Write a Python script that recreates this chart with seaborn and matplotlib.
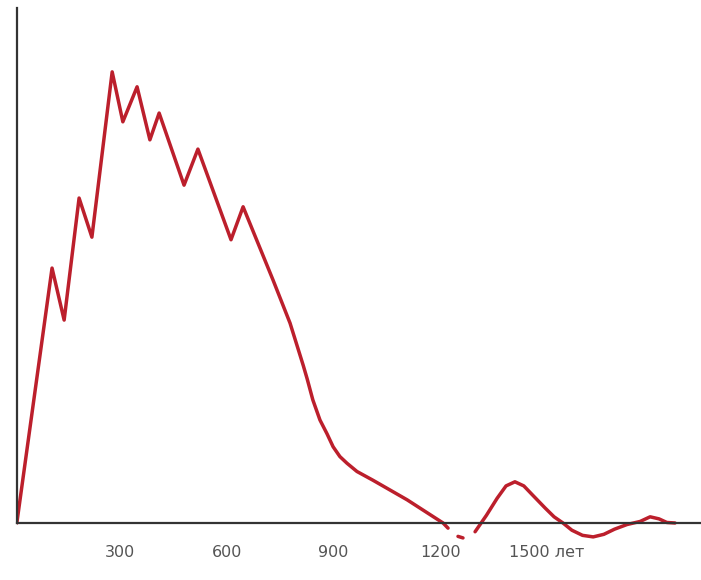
import pandas as pd
import matplotlib
matplotlib.use('Agg')
import matplotlib.pyplot as plt
import seaborn as sns

# curve (x in years, y in relative units 0-100)
main_years = [10, 109, 143, 185, 221, 278, 308, 348, 384, 410, 480, 519, 612, 646,
              730, 778, 815, 826, 842, 862, 882, 899, 918, 938, 966, 1011, 1107,
              1208, 1222]
main_vals = [0.0, 49.5, 39.4, 63.1, 55.5, 87.6, 77.9, 84.7, 74.4, 79.6, 65.6, 72.6,
             55.0, 61.4, 47.2, 38.8, 30.6, 28.0, 23.9, 20.0, 17.3, 14.8, 12.9, 11.6,
             10.0, 8.3, 4.5, 0.0, -1.0]
dash_years = [1250, 1264]
dash_vals = [-2.6, -2.9]
tail_years = [1298, 1330, 1360, 1385, 1410, 1435, 1460, 1495, 1520, 1545, 1570, 1600,
              1630, 1660, 1690, 1725, 1762, 1790, 1815, 1837, 1860]
tail_vals = [-1.7, 1.5, 4.8, 7.2, 8.0, 7.2, 5.4, 2.9, 1.2, 0.0, -1.4, -2.4,
             -2.7, -2.2, -1.2, -0.3, 0.3, 1.2, 0.8, 0.1, 0.0]

tick_pos = [300, 600, 900, 1200, 1500]
tick_labels = ['300', '600', '900', '1200', '1500 лет']

df = pd.concat([
    pd.DataFrame({'year': main_years, 'val': main_vals, 'seg': 0}),
    pd.DataFrame({'year': dash_years, 'val': dash_vals, 'seg': 1}),
    pd.DataFrame({'year': tail_years, 'val': tail_vals, 'seg': 2}),
])

sns.set_style('white')
plt.rcParams['font.family'] = ['Liberation Sans Narrow', 'DejaVu Sans']

fig = plt.figure(figsize=(7.01, 5.80), dpi=100)
ax = fig.add_axes([17 / 701, 0, 684 / 701, 572 / 580])

sns.lineplot(data=df, x='year', y='val', units='seg', estimator=None, sort=False,
             color='#bc1f2c', linewidth=2.5, ax=ax)

ax.set_xlim(10.5, 1933)
ax.set_ylim(-11.07, 100)

for s in ['top', 'right']:
    ax.spines[s].set_visible(False)
ax.spines['bottom'].set_position(('data', 0))
ax.spines['left'].set_bounds(0, 100)
for s in ['bottom', 'left']:
    ax.spines[s].set_color('#333333')
    ax.spines[s].set_linewidth(1.6)

ax.set_xticks(tick_pos)
ax.set_xticklabels(tick_labels)
ax.set_yticks([])
ax.tick_params(axis='x', direction='in', length=5, width=1.0, color='#555555',
               pad=16, labelsize=11.5, labelcolor='#555555')
ax.set_xlabel('')
ax.set_ylabel('')

fig.savefig('out.png', dpi=100)
